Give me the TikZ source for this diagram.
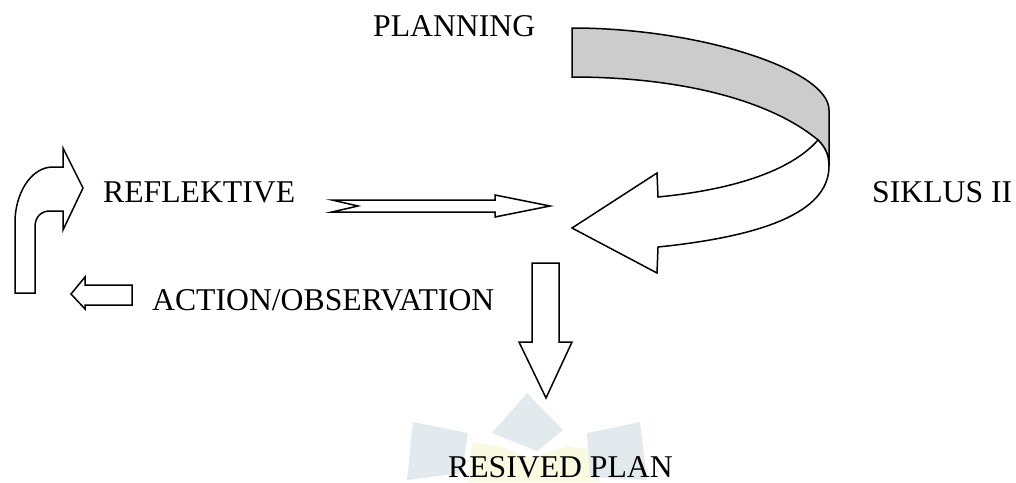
\documentclass[tikz,border=0pt]{standalone}
\usepackage{fontspec}
\setmainfont{Liberation Serif}
\begin{document}
\begin{tikzpicture}[x=1pt,y=-1pt,
  lbl/.style={inner sep=0pt,anchor=base west,font=\fontsize{31.7}{38}\selectfont},
  shp/.style={draw=black,line width=1.5pt,line join=miter,fill=white},
  wmblue/.style={fill={rgb,255:red,227;green,234;blue,237}},
  wmyel/.style={fill={rgb,255:red,250;green,250;blue,224}}]
\useasboundingbox (0,0) rectangle (1016,482);
% faint watermark
\fill[wmyel] (472,442) -- (500,446) -- (530,458) -- (568,446) -- (592,450) -- (600,482) -- (468,482) -- cycle;
\fill[wmblue] (527,393) -- (563,430) -- (537,451) -- (492,433) -- cycle;
\fill[wmblue] (413,422) -- (468,433) -- (462,473) -- (407,480) -- cycle;
\fill[wmblue] (587,433) -- (640,422) -- (647,480) -- (590,477) -- cycle;
% big curved arrow: grey back band
\path[shp,fill=black!20] (572,28) .. controls (700,28) and (829,70) .. (829,110)
  -- (829,166) .. controls (829,156) and (826,148) .. (818,140)
  .. controls (770,100) and (680,77) .. (572,77) -- cycle;
% big curved arrow: white front part with head
\path[shp] (818,140) .. controls (790,172) and (730,190) .. (658,197)
  -- (657,173) -- (572,228) -- (657,273) -- (658,247)
  .. controls (775,235) and (829,208) .. (829,166)
  .. controls (829,156) and (826,148) .. (818,140) -- cycle;
% notched arrow REFLEKTIVE -> centre
\path[shp] (332,200) -- (495,200) -- (495,195) -- (550,206) -- (495,217) -- (495,212)
  -- (332,212) -- (358,206) -- cycle;
% down arrow
\path[shp] (532,263) -- (559,263) -- (559,342) -- (572,342) -- (546,398) -- (519,342) -- (532,342) -- cycle;
% small left arrow
\path[shp] (132,285) -- (85,285) -- (85,277) -- (71,294) -- (85,309) -- (85,305) -- (132,305) -- cycle;
% bent up arrow
\path[shp] (15,293) -- (15,222) .. controls (15,195) and (30,167) .. (53,167) -- (63,167)
  -- (63,148) -- (83,188) -- (63,230) -- (63,211) -- (50,211)
  .. controls (42,211) and (35,216) .. (35,227) -- (35,293) -- cycle;
% labels
\node[lbl] (planning) at (373,36) {PLANNING};
\node[lbl] (reflektive) at (103,202) {REFLEKTIVE};
\node[lbl] (siklus) at (872,202) {SIKLUS II};
\node[lbl] (action) at (152,310) {ACTION/OBSERVATION};
\node[lbl] (resived) at (448,477) {RESIVED PLAN};
\end{tikzpicture}
\end{document}
